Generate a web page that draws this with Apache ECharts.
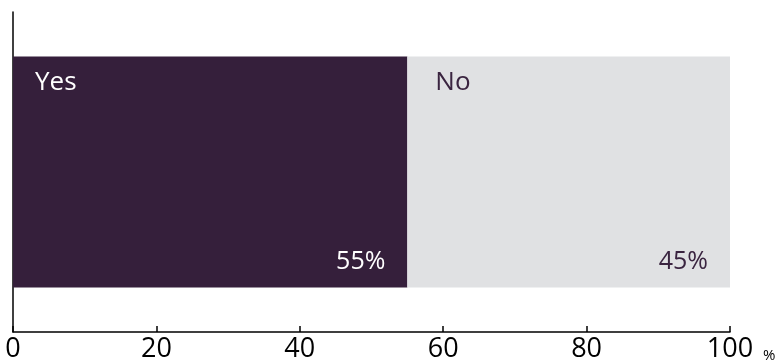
<!DOCTYPE html>
<html><head><meta charset="utf-8">
<script src="https://cdn.jsdelivr.net/npm/echarts@6/dist/echarts.min.js"></script>
<style>html,body{margin:0;padding:0;background:#fff}#c{width:783px;height:364px}</style>
</head><body><div id="c"></div>
<script>
const categories = ['Answer'];
const seriesNames = ['Yes', 'No'];
const yesValues = [55];
const noValues = [45];
const xTicks = [0, 20, 40, 60, 80, 100];
const unit = '%';

const colors = {Yes: '#351f3b', No: '#e0e1e3'};
const textColors = {Yes: '#ffffff', No: '#3a2440'};
const nameInset = {Yes: 22, No: 28};
const dataMap = {Yes: yesValues, No: noValues};
const font = '"Open Sans", "Noto Sans", sans-serif';

const series = [];
seriesNames.forEach(n => {
  series.push({
    name: n, type: 'bar', stack: 'a', barWidth: 231, barGap: '-100%',
    data: dataMap[n], itemStyle: {color: colors[n]},
    label: {show: true, position: [nameInset[n], 13], formatter: n, color: textColors[n],
      fontSize: 26, fontFamily: font, align: 'left', verticalAlign: 'top'},
    silent: true
  });
});
seriesNames.forEach(n => {
  series.push({
    name: n + '%', type: 'bar', stack: 'b', barWidth: 231, barGap: '-100%',
    data: dataMap[n], itemStyle: {color: 'rgba(0,0,0,0)'},
    label: {show: true, position: ['100%', '100%'], offset: [-22, -13], formatter: '{c}%',
      color: textColors[n], fontSize: 25, fontFamily: font, align: 'right', verticalAlign: 'bottom'},
    silent: true
  });
});

const chart = echarts.init(document.getElementById('c'));
chart.setOption({
  animation: false,
  grid: {left: 13, right: 53, top: 12, bottom: 32, containLabel: false},
  xAxis: {
    type: 'value', min: xTicks[0], max: xTicks[xTicks.length - 1], interval: 20,
    axisLine: {show: true, lineStyle: {color: '#000', width: 1.5}},
    axisTick: {show: true, inside: true, length: 6, lineStyle: {color: '#000', width: 1.5}},
    splitLine: {show: false},
    axisLabel: {color: '#000', fontSize: 27, fontFamily: font, margin: 4},
    name: unit, nameLocation: 'end', nameGap: 33,
    nameTextStyle: {color: '#000', fontSize: 15, fontFamily: font, verticalAlign: 'top', padding: [16, 0, 0, 0]}
  },
  yAxis: {
    type: 'category', data: categories,
    axisLine: {show: true, lineStyle: {color: '#000', width: 1.5}},
    axisTick: {show: false}, axisLabel: {show: false}
  },
  series: series
});
</script></body></html>
